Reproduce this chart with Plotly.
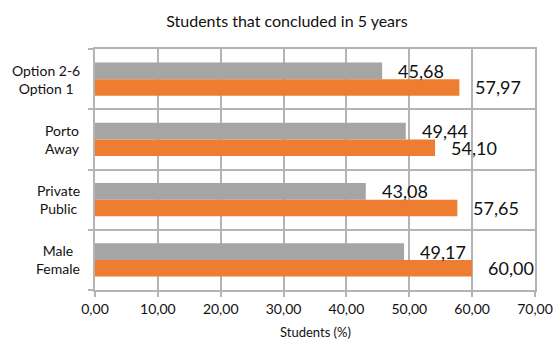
import plotly.graph_objects as go

# Group labels (top line = grey series, bottom line = orange series)
groups = ["Option 2-6<br>Option 1", "Porto<br>Away", "Private<br>Public", "Male<br>Female"]
first_values = [45.68, 49.44, 43.08, 49.17]    # Option 2-6, Porto, Private, Male
second_values = [57.97, 54.10, 57.65, 60.00]   # Option 1, Away, Public, Female
x_ticks = [0, 10, 20, 30, 40, 50, 60, 70]

GREY = "#a5a5a5"
ORANGE = "#ed7d31"
LINE = "#b4b4b4"
FONT = "Lato"
BARGAP = 0.445

idx = list(range(len(groups)))

def fmt(v):
    return f"{v:.2f}".replace(".", ",")

fig = go.Figure()
fig.add_trace(go.Bar(y=idx, x=first_values, orientation="h",
                     marker=dict(color=GREY, line=dict(width=0)),
                     hoverinfo="skip"))
fig.add_trace(go.Bar(y=idx, x=second_values, orientation="h",
                     marker=dict(color=ORANGE, line=dict(width=0)),
                     hoverinfo="skip"))

annotations = []
off = (1 - BARGAP) / 4
for i, (a, b) in enumerate(zip(first_values, second_values)):
    annotations.append(dict(x=a, y=i - off, xref="x", yref="y", text=fmt(a),
                            showarrow=False, xanchor="left", yanchor="middle",
                            xshift=14, font=dict(family=FONT, size=18, color="#111")))
    annotations.append(dict(x=b, y=i + off, xref="x", yref="y", text=fmt(b),
                            showarrow=False, xanchor="left", yanchor="middle",
                            xshift=14, font=dict(family=FONT, size=18, color="#111")))
    annotations.append(dict(x=0, y=i, xref="paper", yref="y", text=groups[i],
                            showarrow=False, xanchor="right", yanchor="middle",
                            align="center", xshift=-13,
                            font=dict(family=FONT, size=14, color="#111")))

annotations.append(dict(x=0.5, y=0, xref="paper", yref="paper", text="Students (%)",
                        showarrow=False, xanchor="center", yanchor="middle",
                        yshift=-42, font=dict(family=FONT, size=13, color="#111")))

fig.update_layout(
    width=553, height=342,
    margin=dict(l=95, r=18, t=49, b=52, autoexpand=False),
    paper_bgcolor="white", plot_bgcolor="white",
    barmode="group", bargap=BARGAP, bargroupgap=0,
    showlegend=False,
    title=dict(text="Students that concluded in 5 years", x=0.519, xanchor="center",
               y=1 - 21 / 342, yanchor="middle", yref="container",
               font=dict(family=FONT, size=16, color="#111")),
    annotations=annotations,
    font=dict(family=FONT, color="#111"),
)
fig.update_xaxes(range=[0, 70], tickvals=x_ticks, ticktext=[fmt(v) for v in x_ticks],
                 showgrid=True, gridcolor=LINE, gridwidth=1.5,
                 showline=True, linecolor=LINE, linewidth=1.5, mirror=True,
                 ticks="outside", ticklen=5, tickcolor=LINE, tickwidth=1.5,
                 tickfont=dict(family=FONT, size=14, color="#111"),
                 zeroline=False, fixedrange=True, automargin=False)
fig.update_yaxes(type="linear", range=[3.5, -0.5],
                 tickvals=[-0.5, 0.5, 1.5, 2.5, 3.5], showticklabels=False,
                 showgrid=True, gridcolor=LINE, gridwidth=1.5,
                 showline=True, linecolor=LINE, linewidth=1.5, mirror=True,
                 ticks="outside", ticklen=5, tickcolor=LINE, tickwidth=1.5,
                 zeroline=False, fixedrange=True, automargin=False)

fig.write_html("out.html", config={"displayModeBar": False})
